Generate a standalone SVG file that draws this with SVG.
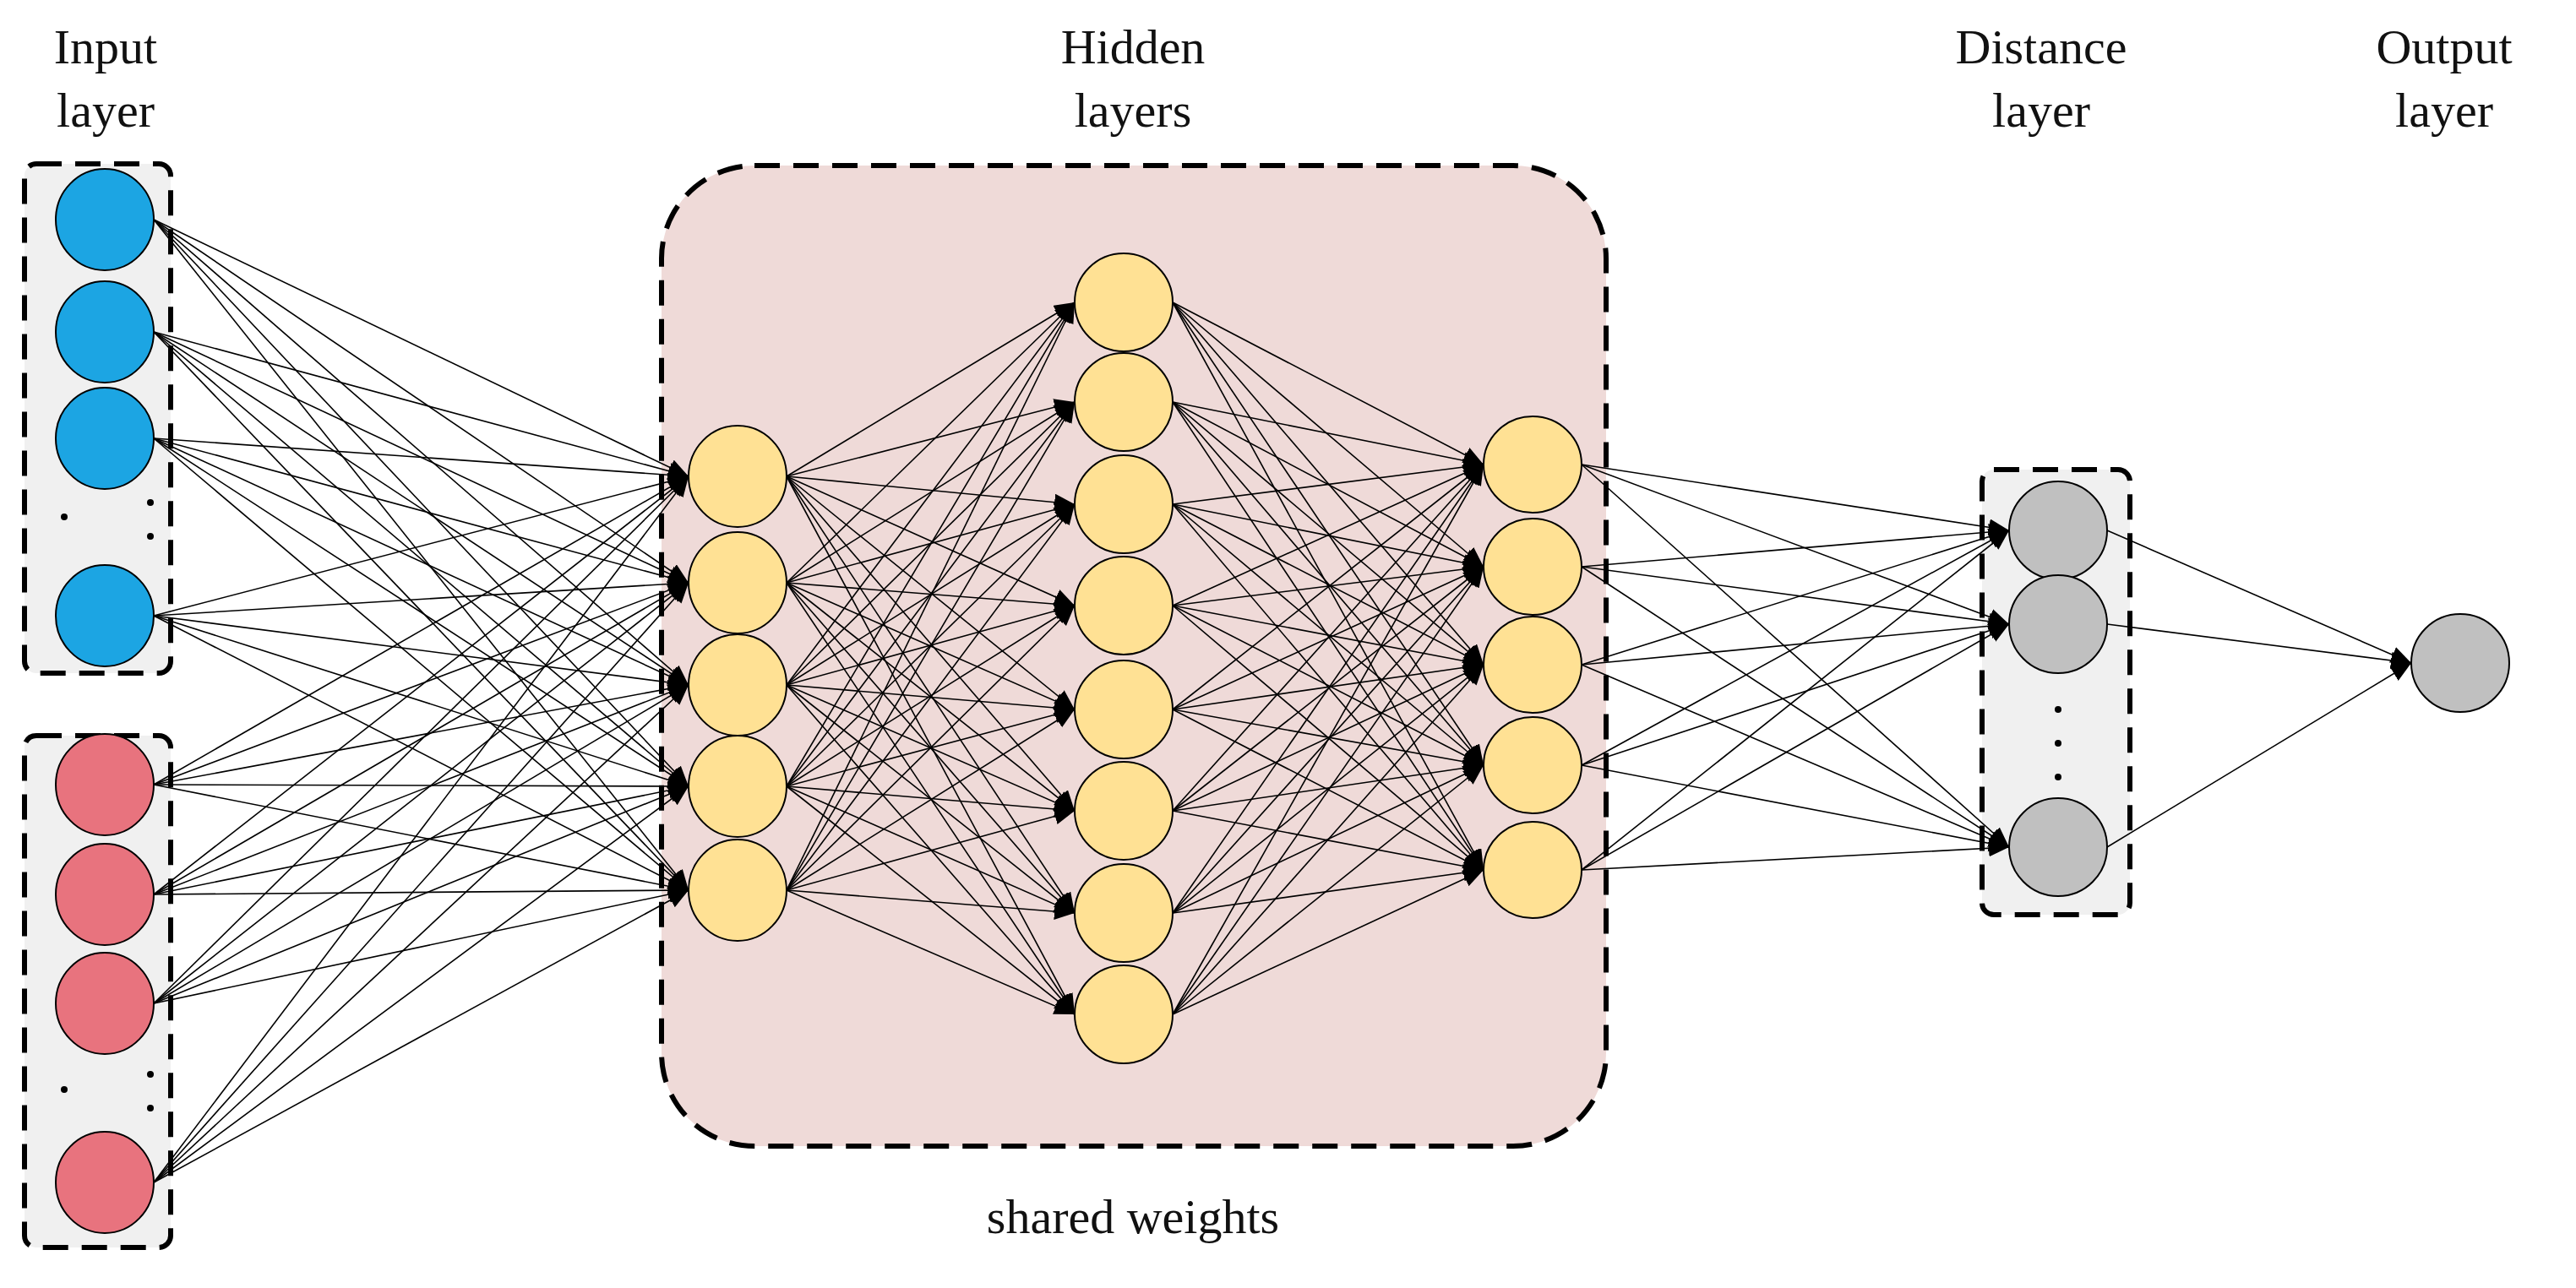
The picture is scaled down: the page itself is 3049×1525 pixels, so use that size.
<svg xmlns="http://www.w3.org/2000/svg" width="3049" height="1525" viewBox="0 0 3049 1525">
<style>
.t{font-family:"Liberation Serif",serif;font-size:58px;fill:#111;text-anchor:middle}
.c line{stroke:#000;stroke-width:1.6;marker-end:url(#a)}
.box{stroke:#000;stroke-width:6;stroke-dasharray:30,16;fill:#f0f0f0}
.n{stroke:#000;stroke-width:2}
.b{fill:#1ca5e3}.r{fill:#e8737e}.y{fill:#ffe194}.g{fill:#c0c0c0}
</style>
<defs><marker id="a" markerUnits="userSpaceOnUse" markerWidth="26" markerHeight="26" refX="24" refY="10" orient="auto"><path d="M0,0 L24,10 L0,20 Z" fill="#000"/></marker></defs>
<rect x="0" y="0" width="3049" height="1525" fill="#fff"/>
<text class="t" x="125" y="75">Input</text><text class="t" x="125" y="150">layer</text>
<text class="t" x="1341" y="75">Hidden</text><text class="t" x="1341" y="150">layers</text>
<text class="t" x="2416" y="75">Distance</text><text class="t" x="2416" y="150">layer</text>
<text class="t" x="2893" y="75">Output</text><text class="t" x="2893" y="150">layer</text>
<text class="t" x="1341" y="1460">shared weights</text>
<rect id="hidden" x="783" y="196" width="1118" height="1161" rx="110" fill="#efdad8" stroke="#000" stroke-width="6" stroke-dasharray="30,16"/>
<rect id="inA" class="box" x="29" y="194" width="173" height="603" rx="14"/>
<rect id="inB" class="box" x="29" y="871" width="173" height="606" rx="14"/>
<rect id="dist" class="box" x="2346" y="556" width="175" height="527" rx="14"/>
<g class="c">
<line x1="182" y1="260" x2="815" y2="564"/><line x1="182" y1="260" x2="815" y2="690"/><line x1="182" y1="260" x2="815" y2="811"/><line x1="182" y1="260" x2="815" y2="931"/><line x1="182" y1="260" x2="815" y2="1054"/>
<line x1="182" y1="393" x2="815" y2="564"/><line x1="182" y1="393" x2="815" y2="690"/><line x1="182" y1="393" x2="815" y2="811"/><line x1="182" y1="393" x2="815" y2="931"/><line x1="182" y1="393" x2="815" y2="1054"/>
<line x1="182" y1="519" x2="815" y2="564"/><line x1="182" y1="519" x2="815" y2="690"/><line x1="182" y1="519" x2="815" y2="811"/><line x1="182" y1="519" x2="815" y2="931"/><line x1="182" y1="519" x2="815" y2="1054"/>
<line x1="182" y1="729" x2="815" y2="564"/><line x1="182" y1="729" x2="815" y2="690"/><line x1="182" y1="729" x2="815" y2="811"/><line x1="182" y1="729" x2="815" y2="931"/><line x1="182" y1="729" x2="815" y2="1054"/>
<line x1="182" y1="929" x2="815" y2="564"/><line x1="182" y1="929" x2="815" y2="690"/><line x1="182" y1="929" x2="815" y2="811"/><line x1="182" y1="929" x2="815" y2="931"/><line x1="182" y1="929" x2="815" y2="1054"/>
<line x1="182" y1="1059" x2="815" y2="564"/><line x1="182" y1="1059" x2="815" y2="690"/><line x1="182" y1="1059" x2="815" y2="811"/><line x1="182" y1="1059" x2="815" y2="931"/><line x1="182" y1="1059" x2="815" y2="1054"/>
<line x1="182" y1="1188" x2="815" y2="564"/><line x1="182" y1="1188" x2="815" y2="690"/><line x1="182" y1="1188" x2="815" y2="811"/><line x1="182" y1="1188" x2="815" y2="931"/><line x1="182" y1="1188" x2="815" y2="1054"/>
<line x1="182" y1="1400" x2="815" y2="564"/><line x1="182" y1="1400" x2="815" y2="690"/><line x1="182" y1="1400" x2="815" y2="811"/><line x1="182" y1="1400" x2="815" y2="931"/><line x1="182" y1="1400" x2="815" y2="1054"/>
<line x1="931" y1="564" x2="1272" y2="358"/><line x1="931" y1="564" x2="1272" y2="476"/><line x1="931" y1="564" x2="1272" y2="597"/><line x1="931" y1="564" x2="1272" y2="717"/><line x1="931" y1="564" x2="1272" y2="840"/><line x1="931" y1="564" x2="1272" y2="960"/><line x1="931" y1="564" x2="1272" y2="1081"/><line x1="931" y1="564" x2="1272" y2="1201"/>
<line x1="931" y1="690" x2="1272" y2="358"/><line x1="931" y1="690" x2="1272" y2="476"/><line x1="931" y1="690" x2="1272" y2="597"/><line x1="931" y1="690" x2="1272" y2="717"/><line x1="931" y1="690" x2="1272" y2="840"/><line x1="931" y1="690" x2="1272" y2="960"/><line x1="931" y1="690" x2="1272" y2="1081"/><line x1="931" y1="690" x2="1272" y2="1201"/>
<line x1="931" y1="811" x2="1272" y2="358"/><line x1="931" y1="811" x2="1272" y2="476"/><line x1="931" y1="811" x2="1272" y2="597"/><line x1="931" y1="811" x2="1272" y2="717"/><line x1="931" y1="811" x2="1272" y2="840"/><line x1="931" y1="811" x2="1272" y2="960"/><line x1="931" y1="811" x2="1272" y2="1081"/><line x1="931" y1="811" x2="1272" y2="1201"/>
<line x1="931" y1="931" x2="1272" y2="358"/><line x1="931" y1="931" x2="1272" y2="476"/><line x1="931" y1="931" x2="1272" y2="597"/><line x1="931" y1="931" x2="1272" y2="717"/><line x1="931" y1="931" x2="1272" y2="840"/><line x1="931" y1="931" x2="1272" y2="960"/><line x1="931" y1="931" x2="1272" y2="1081"/><line x1="931" y1="931" x2="1272" y2="1201"/>
<line x1="931" y1="1054" x2="1272" y2="358"/><line x1="931" y1="1054" x2="1272" y2="476"/><line x1="931" y1="1054" x2="1272" y2="597"/><line x1="931" y1="1054" x2="1272" y2="717"/><line x1="931" y1="1054" x2="1272" y2="840"/><line x1="931" y1="1054" x2="1272" y2="960"/><line x1="931" y1="1054" x2="1272" y2="1081"/><line x1="931" y1="1054" x2="1272" y2="1201"/>
<line x1="1388" y1="358" x2="1756" y2="550"/><line x1="1388" y1="358" x2="1756" y2="671"/><line x1="1388" y1="358" x2="1756" y2="787"/><line x1="1388" y1="358" x2="1756" y2="906"/><line x1="1388" y1="358" x2="1756" y2="1030"/>
<line x1="1388" y1="476" x2="1756" y2="550"/><line x1="1388" y1="476" x2="1756" y2="671"/><line x1="1388" y1="476" x2="1756" y2="787"/><line x1="1388" y1="476" x2="1756" y2="906"/><line x1="1388" y1="476" x2="1756" y2="1030"/>
<line x1="1388" y1="597" x2="1756" y2="550"/><line x1="1388" y1="597" x2="1756" y2="671"/><line x1="1388" y1="597" x2="1756" y2="787"/><line x1="1388" y1="597" x2="1756" y2="906"/><line x1="1388" y1="597" x2="1756" y2="1030"/>
<line x1="1388" y1="717" x2="1756" y2="550"/><line x1="1388" y1="717" x2="1756" y2="671"/><line x1="1388" y1="717" x2="1756" y2="787"/><line x1="1388" y1="717" x2="1756" y2="906"/><line x1="1388" y1="717" x2="1756" y2="1030"/>
<line x1="1388" y1="840" x2="1756" y2="550"/><line x1="1388" y1="840" x2="1756" y2="671"/><line x1="1388" y1="840" x2="1756" y2="787"/><line x1="1388" y1="840" x2="1756" y2="906"/><line x1="1388" y1="840" x2="1756" y2="1030"/>
<line x1="1388" y1="960" x2="1756" y2="550"/><line x1="1388" y1="960" x2="1756" y2="671"/><line x1="1388" y1="960" x2="1756" y2="787"/><line x1="1388" y1="960" x2="1756" y2="906"/><line x1="1388" y1="960" x2="1756" y2="1030"/>
<line x1="1388" y1="1081" x2="1756" y2="550"/><line x1="1388" y1="1081" x2="1756" y2="671"/><line x1="1388" y1="1081" x2="1756" y2="787"/><line x1="1388" y1="1081" x2="1756" y2="906"/><line x1="1388" y1="1081" x2="1756" y2="1030"/>
<line x1="1388" y1="1201" x2="1756" y2="550"/><line x1="1388" y1="1201" x2="1756" y2="671"/><line x1="1388" y1="1201" x2="1756" y2="787"/><line x1="1388" y1="1201" x2="1756" y2="906"/><line x1="1388" y1="1201" x2="1756" y2="1030"/>
<line x1="1872" y1="550" x2="2378" y2="628"/><line x1="1872" y1="550" x2="2378" y2="739"/><line x1="1872" y1="550" x2="2378" y2="1003"/>
<line x1="1872" y1="671" x2="2378" y2="628"/><line x1="1872" y1="671" x2="2378" y2="739"/><line x1="1872" y1="671" x2="2378" y2="1003"/>
<line x1="1872" y1="787" x2="2378" y2="628"/><line x1="1872" y1="787" x2="2378" y2="739"/><line x1="1872" y1="787" x2="2378" y2="1003"/>
<line x1="1872" y1="906" x2="2378" y2="628"/><line x1="1872" y1="906" x2="2378" y2="739"/><line x1="1872" y1="906" x2="2378" y2="1003"/>
<line x1="1872" y1="1030" x2="2378" y2="628"/><line x1="1872" y1="1030" x2="2378" y2="739"/><line x1="1872" y1="1030" x2="2378" y2="1003"/>
<line x1="2494" y1="628" x2="2854" y2="785"/><line x1="2494" y1="739" x2="2854" y2="785"/><line x1="2494" y1="1003" x2="2854" y2="785"/>
</g>
<g id="input"><ellipse class="n b" cx="124" cy="260" rx="58" ry="60"/><ellipse class="n b" cx="124" cy="393" rx="58" ry="60"/><ellipse class="n b" cx="124" cy="519" rx="58" ry="60"/><ellipse class="n b" cx="124" cy="729" rx="58" ry="60"/>
<circle cx="76" cy="612" r="4"/><circle cx="178" cy="595" r="4"/><circle cx="178" cy="635" r="4"/>
<ellipse class="n r" cx="124" cy="929" rx="58" ry="60"/><ellipse class="n r" cx="124" cy="1059" rx="58" ry="60"/><ellipse class="n r" cx="124" cy="1188" rx="58" ry="60"/><ellipse class="n r" cx="124" cy="1400" rx="58" ry="60"/>
<circle cx="76" cy="1290" r="4"/><circle cx="178" cy="1272" r="4"/><circle cx="178" cy="1312" r="4"/></g>
<g id="h1"><ellipse class="n y" cx="873" cy="564" rx="58" ry="60"/><ellipse class="n y" cx="873" cy="690" rx="58" ry="60"/><ellipse class="n y" cx="873" cy="811" rx="58" ry="60"/><ellipse class="n y" cx="873" cy="931" rx="58" ry="60"/><ellipse class="n y" cx="873" cy="1054" rx="58" ry="60"/></g>
<g id="h2"><ellipse class="n y" cx="1330" cy="358" rx="58" ry="58"/><ellipse class="n y" cx="1330" cy="476" rx="58" ry="58"/><ellipse class="n y" cx="1330" cy="597" rx="58" ry="58"/><ellipse class="n y" cx="1330" cy="717" rx="58" ry="58"/><ellipse class="n y" cx="1330" cy="840" rx="58" ry="58"/><ellipse class="n y" cx="1330" cy="960" rx="58" ry="58"/><ellipse class="n y" cx="1330" cy="1081" rx="58" ry="58"/><ellipse class="n y" cx="1330" cy="1201" rx="58" ry="58"/></g>
<g id="h3"><ellipse class="n y" cx="1814" cy="550" rx="58" ry="57"/><ellipse class="n y" cx="1814" cy="671" rx="58" ry="57"/><ellipse class="n y" cx="1814" cy="787" rx="58" ry="57"/><ellipse class="n y" cx="1814" cy="906" rx="58" ry="57"/><ellipse class="n y" cx="1814" cy="1030" rx="58" ry="57"/></g>
<g id="distance"><circle class="n g" cx="2436" cy="628" r="58"/><circle class="n g" cx="2436" cy="739" r="58"/><circle class="n g" cx="2436" cy="1003" r="58"/>
<circle cx="2436" cy="840" r="4"/><circle cx="2436" cy="880" r="4"/><circle cx="2436" cy="920" r="4"/></g>
<g id="output"><circle class="n g" cx="2912" cy="785" r="58"/></g>
</svg>
